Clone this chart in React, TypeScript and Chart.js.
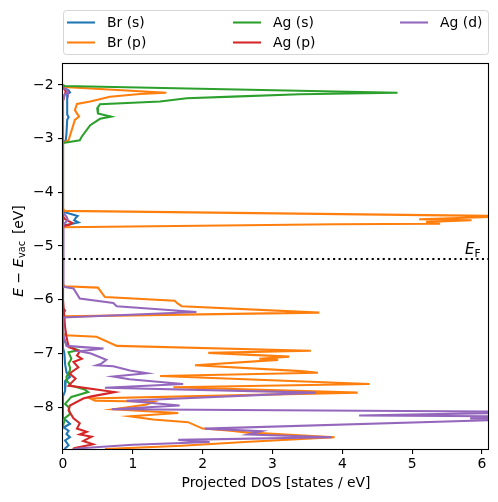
import React, { useEffect, useRef } from "react";
import { Chart, registerables } from "chart.js";
Chart.register(...registerables);

const seriesNames = ["Br (s)", "Br (p)", "Ag (s)", "Ag (p)", "Ag (d)"];
const seriesColors = ["#1f77b4", "#ff7f0e", "#2ca02c", "#d62728", "#9467bd"];

// Br (s)
const brSEnergy = [-2.0, -2.06, -2.1, -2.14, -2.17, -2.25, -2.4, -2.55, -2.6, -2.65, -2.9, -3.03, -3.08,
  -4.36, -4.4, -4.44, -4.48, -4.52, -4.56, -4.59, -4.62,
  -6.15, -6.2, -6.26,
  -6.9, -7.0, -7.2, -7.35, -7.44, -7.5, -7.7, -7.8,
  -8.2, -8.31, -8.38, -8.44, -8.5, -8.56, -8.62, -8.71, -8.78];
const brSDos = [0, 0.02, 0.08, 0.1, 0.06, 0.06, 0.06, 0.06, 0.08, 0.06, 0.05, 0.04, 0,
  0, 0.1, 0.21, 0.18, 0.16, 0.22, 0.12, 0,
  0, 0.03, 0,
  0, 0.02, 0.03, 0.05, 0.1, 0.04, 0.03, 0,
  0, 0.1, 0.01, 0.08, 0.05, 0.1, 0.03, 0.08, 0.02];

// Br (p)
const brPEnergy = [-2.0, -2.04, -2.144, -2.17, -2.22, -2.28, -2.31, -2.355, -2.47, -2.59, -2.65, -3.03, -3.08,
  -4.3, -4.345, -4.445, -4.5, -4.52, -4.55, -4.585, -4.595, -4.65,
  -5.7, -5.75, -5.775, -5.95, -6.02, -6.07, -6.12, -6.24, -6.31,
  -6.62, -6.66, -6.69, -6.86, -6.95, -6.99, -7.06, -7.1, -7.12, -7.22, -7.33, -7.36, -7.42, -7.57, -7.63, -7.73,
  -7.84, -7.88, -7.9, -7.95, -8.04, -8.11, -8.17, -8.23, -8.28, -8.4, -8.44, -8.47, -8.56, -8.65, -8.72, -8.78];
const brPDos = [0, 0.02, 1.48, 1.1, 0.67, 0.48, 0.39, 0.2, 0.17, 0.23, 0.17, 0.08, 0,
  0, 0.02, 6.5, 5.1, 5.85, 5.2, 5.4, 3.9, 0,
  0, 0.02, 0.5, 0.6, 1.6, 1.64, 1.7, 3.67, 0,
  0, 0.03, 0.48, 0.77, 3.55, 2.08, 3.24, 2.81, 3.08, 1.89, 3.41, 3.65, 1.39, 4.39, 1.58, 4.22,
  0.39, 0.46, 1.3, 1.2, 0.72, 1.65, 0.96, 1.29, 1.79, 2.0, 2.4, 2.62, 3.89, 2.6, 1.7, 0.6];

// Ag (s)
const agSEnergy = [-2.0, -2.019, -2.144, -2.174, -2.218, -2.248, -2.31, -2.36, -2.435, -2.53, -2.59, -2.63, -2.75, -2.96, -3.03, -3.08,
  -6.75, -6.79, -6.88, -6.94, -6.98, -7.04, -7.1, -7.19, -7.26, -7.32, -7.44, -7.52, -7.6, -7.67, -7.72, -7.81, -7.94, -8.0, -8.13, -8.2, -8.3, -8.35];
const agSDos = [0, 0.02, 4.79, 3.39, 2.43, 1.77, 1.39, 0.53, 0.49, 0.5, 0.69, 0.53, 0.39, 0.27, 0.24, 0,
  0, 0.03, 0.1, 0.22, 0.08, 0.1, 0.12, 0.08, 0.1, 0.1, 0.05, 0.06, 0.12, 0.31, 0.36, 0.12, 0.03, 0.08, 0.1, 0.03, 0.01, 0];

// Ag (p)
const agPEnergy = [-2.05, -2.12, -2.2, -2.3,
  -4.45, -4.5, -4.57, -4.6, -4.63,
  -6.0, -6.51, -6.69, -6.88, -6.96, -7.04, -7.1, -7.16, -7.26, -7.35, -7.38, -7.47, -7.6, -7.72,
  -7.8, -7.84, -7.97, -8.06, -8.21, -8.3, -8.4, -8.46, -8.51, -8.55, -8.63, -8.69, -8.76, -8.78];
const agPDos = [0, 0.04, 0.02, 0,
  0, 0.03, 0.13, 0.1, 0,
  0, 0.03, 0.05, 0.08, 0.24, 0.2, 0.27, 0.15, 0.22, 0.12, 0.1, 0.18, 0.08, 0.74,
  0.41, 0.29, 0.1, 0.08, 0.15, 0.24, 0.2, 0.34, 0.24, 0.41, 0.29, 0.43, 0.17, 0.14];

// Ag (d)
const agDEnergy = [-2.05, -2.1, -2.14, -2.18, -2.3,
  -4.38, -4.45, -4.52, -4.58, -4.62,
  -5.72, -5.76, -5.79, -5.98, -6.06, -6.12, -6.23, -6.33,
  -6.62, -6.66, -6.86, -6.91, -6.96, -7.0, -7.12, -7.19, -7.22, -7.24, -7.32, -7.37, -7.43, -7.48, -7.57, -7.64, -7.73,
  -7.88, -7.97, -8.04, -8.09, -8.155, -8.18, -8.21, -8.23, -8.4, -8.45, -8.51, -8.56, -8.61, -8.65, -8.7, -8.76, -8.78];
const agDDos = [0, 0.06, 0.07, 0.02, 0,
  0, 0.05, 0.07, 0.02, 0,
  0, 0.01, 0.15, 0.24, 0.72, 0.77, 1.91, 0,
  0, 0.01, 0.05, 0.58, 0.24, 0.4, 0.62, 0.55, 0.48, 0.72, 0.96, 1.2, 0.72, 0.95, 1.72, 0.6, 3.62,
  0.91, 1.67, 0.7, 7.0, 4.24, 7.5, 5.83, 6.5, 2.03, 2.84, 2.65, 3.85, 1.65, 2.1, 1.0, 0.3, 0.15];

const seriesEnergies = [brSEnergy, brPEnergy, agSEnergy, agPEnergy, agDEnergy];
const seriesDos = [brSDos, brPDos, agSDos, agPDos, agDDos];

const xTicks = [0, 1, 2, 3, 4, 5, 6];
const yTicks = [-2, -3, -4, -5, -6, -7, -8];
const xMin = 0;
const xMax = 6.1;
const yMin = -8.78;
const yMax = -1.61;
const fermiEnergy = -5.24;

const FONT = "'DejaVu Sans', sans-serif";
const FS = 13.9;
const LW = 2.08;

const fmt = (v: number) => (v < 0 ? "\u2212" + Math.abs(v) : String(v));

function drawPieces(ctx: CanvasRenderingContext2D, pieces: any[], startX: number) {
  let x = startX;
  for (const p of pieces) {
    if (p.gap) { x += p.gap; continue; }
    ctx.font = `${p.italic ? "oblique " : ""}${p.size}px ${FONT}`;
    ctx.fillText(p.t, x, p.dy || 0);
    x += ctx.measureText(p.t).width;
  }
}
function piecesWidth(ctx: CanvasRenderingContext2D, pieces: any[]) {
  let w = 0;
  for (const p of pieces) {
    if (p.gap) { w += p.gap; continue; }
    ctx.font = `${p.italic ? "oblique " : ""}${p.size}px ${FONT}`;
    w += ctx.measureText(p.t).width;
  }
  return w;
}

const overlayPlugin = {
  id: "overlay",
  afterDatasetsDraw(chart: any) {
    const { ctx, chartArea: a, scales } = chart;
    const y = scales.y.getPixelForValue(fermiEnergy);
    ctx.save();
    ctx.strokeStyle = "#000";
    ctx.lineWidth = LW;
    ctx.setLineDash([LW, LW * 1.65]);
    ctx.beginPath();
    ctx.moveTo(a.left, y);
    ctx.lineTo(a.right, y);
    ctx.stroke();
    ctx.restore();

    ctx.save();
    ctx.strokeStyle = "#000";
    ctx.lineWidth = 1.1;
    const l = Math.round(a.left) - 0.5, t = Math.round(a.top) - 0.5;
    const r = Math.round(a.right) - 0.5, b = Math.round(a.bottom) + 0.5;
    ctx.strokeRect(l, t, r - l, b - t);
    ctx.restore();
  },
  afterDraw(chart: any) {
    const { ctx, chartArea: a, scales } = chart;
    const yF = scales.y.getPixelForValue(fermiEnergy);

    // E_F label
    ctx.save();
    ctx.fillStyle = "#000";
    ctx.textBaseline = "alphabetic";
    ctx.translate(a.right - 24, yF - 5);
    drawPieces(ctx, [
      { t: "E", italic: true, size: FS * 1.08 },
      { t: "F", size: FS * 0.76, dy: 2.7 },
    ], 0);
    ctx.restore();

    // y-axis label
    ctx.save();
    ctx.fillStyle = "#000";
    ctx.textBaseline = "alphabetic";
    const yl = [
      { t: "E", italic: true, size: FS },
      { gap: 4.5 },
      { t: "\u2212", size: FS },
      { gap: 4.5 },
      { t: "E", italic: true, size: FS },
      { gap: 0.5 },
      { t: "vac", size: FS * 0.7, dy: 2.7 },
      { gap: 2.5 },
      { t: " [eV]", size: FS },
    ];
    const w = piecesWidth(ctx, yl);
    ctx.translate(22.5, 251);
    ctx.rotate(-Math.PI / 2);
    drawPieces(ctx, yl, -w / 2);
    ctx.restore();

    // legend
    ctx.save();
    const lx = a.left + 0.5, ly = 10.5, lw = a.right - a.left - 1, lh = 44, rad = 3;
    ctx.beginPath();
    ctx.moveTo(lx + rad, ly);
    ctx.lineTo(lx + lw - rad, ly);
    ctx.quadraticCurveTo(lx + lw, ly, lx + lw, ly + rad);
    ctx.lineTo(lx + lw, ly + lh - rad);
    ctx.quadraticCurveTo(lx + lw, ly + lh, lx + lw - rad, ly + lh);
    ctx.lineTo(lx + rad, ly + lh);
    ctx.quadraticCurveTo(lx, ly + lh, lx, ly + lh - rad);
    ctx.lineTo(lx, ly + rad);
    ctx.quadraticCurveTo(lx, ly, lx + rad, ly);
    ctx.closePath();
    ctx.fillStyle = "rgba(255,255,255,0.8)";
    ctx.fill();
    ctx.strokeStyle = "rgba(204,204,204,0.8)";
    ctx.lineWidth = 1;
    ctx.stroke();
    const colX = [a.left + 4, a.left + 170, a.left + 337];
    const rowY = [22.5, 42.5];
    ctx.font = `${FS}px ${FONT}`;
    ctx.textBaseline = "middle";
    seriesNames.forEach((name, i) => {
      const c = Math.floor(i / 2), rr = i % 2;
      const hx = colX[c], hy = rowY[rr];
      ctx.strokeStyle = seriesColors[i];
      ctx.lineWidth = LW;
      ctx.beginPath();
      ctx.moveTo(hx, hy);
      ctx.lineTo(hx + 28, hy);
      ctx.stroke();
      ctx.fillStyle = "#000";
      ctx.fillText(name, hx + 40, hy + 1);
    });
    ctx.restore();
  },
};

export default function App() {
  const ref = useRef<HTMLCanvasElement>(null);
  useEffect(() => {
    if (!ref.current) return;
    Chart.defaults.font.family = FONT;
    Chart.defaults.font.size = FS;
    Chart.defaults.color = "#000";
    const datasets = seriesNames.map((name, i) => ({
      label: name,
      data: seriesEnergies[i].map((e, j) => ({ x: seriesDos[i][j], y: e })),
      borderColor: seriesColors[i],
      backgroundColor: seriesColors[i],
      borderWidth: LW,
      showLine: true,
      pointRadius: 0,
      fill: false,
      tension: 0,
      clip: 0,
      order: seriesNames.length - i,
    }));
    const chart = new Chart(ref.current, {
      type: "scatter",
      data: { datasets },
      options: {
        animation: false,
        responsive: false,
        devicePixelRatio: 1,
        layout: { padding: { left: 0, top: 64, right: 9, bottom: 0 } },
        plugins: { legend: { display: false }, tooltip: { enabled: false } },
        scales: {
          x: {
            type: "linear",
            min: xMin,
            max: xMax,
            afterBuildTicks: (s: any) => { s.ticks = xTicks.map(v => ({ value: v })); },
            afterFit: (s: any) => { s.height = 53; },
            ticks: { callback: (v: any) => fmt(Number(v)), padding: 2, color: "#000", font: { size: FS }, maxRotation: 0 },
            grid: { drawOnChartArea: false, drawTicks: true, tickLength: 5, color: "#000", lineWidth: 1.1 },
            border: { display: false },
            title: { display: true, text: "Projected DOS [states / eV]", color: "#000", font: { size: FS }, padding: { top: 4, bottom: 10 } },
          },
          y: {
            type: "linear",
            min: yMin,
            max: yMax,
            afterBuildTicks: (s: any) => { s.ticks = yTicks.map(v => ({ value: v })); },
            afterFit: (s: any) => { s.width = 63; },
            ticks: { callback: (v: any) => fmt(Number(v)), padding: 4.5, color: "#000", font: { size: FS } },
            grid: { drawOnChartArea: false, drawTicks: true, tickLength: 5, color: "#000", lineWidth: 1.1 },
            border: { display: false },
          },
        },
      },
      plugins: [overlayPlugin],
    } as any);
    return () => chart.destroy();
  }, []);
  return (
    <div style={{ position: "absolute", left: 0, top: 0, width: 498, height: 502, background: "#fff" }}>
      <canvas ref={ref} width={498} height={502} style={{ display: "block" }} />
    </div>
  );
}
